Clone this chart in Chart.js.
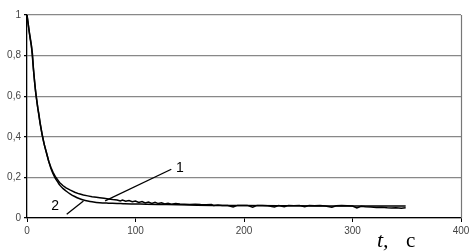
<!DOCTYPE html>
<html><head><meta charset="utf-8">
<script src="https://cdn.jsdelivr.net/npm/chart.js@4/dist/chart.umd.min.js"></script>
<style>html,body{margin:0;padding:0;background:#fff}#wrap{width:476px;height:252px;position:relative}</style>
</head><body><div id="wrap"><canvas id="c"></canvas></div>
<script>
// Curve 1 (experimental, noisy)
const t1 = [0,1,2,3,4,5,6,7,8,9,10,11,12,13,14,15,16,18,20,22,24,26,28,30,33,36,40,44,48,52,56,60,64,67,71,75,79,83,86,88,91,94,97,100,103,106,109,112,115,118,121,124,127,130,133,137,141,145,150,155,160,165,170,172,176,180,185,190,194,198,203,208,212,217,222,228,232,237,241,246,251,256,260,265,270,275,281,285,290,295,300,304,308,312,317,322,327,332,336,340,345,349];
const v1 = [1,0.96,0.92,0.88,0.85,0.81,0.73,0.67,0.62,0.58,0.54,0.51,0.47,0.44,0.41,0.385,0.36,0.32,0.28,0.25,0.225,0.205,0.19,0.175,0.16,0.148,0.137,0.127,0.119,0.113,0.109,0.105,0.102,0.1,0.097,0.094,0.091,0.089,0.084,0.088,0.083,0.086,0.08,0.084,0.077,0.081,0.074,0.079,0.072,0.077,0.071,0.075,0.069,0.073,0.068,0.071,0.069,0.068,0.067,0.068,0.066,0.065,0.066,0.062,0.064,0.061,0.062,0.054,0.062,0.061,0.062,0.053,0.062,0.061,0.06,0.054,0.061,0.055,0.062,0.06,0.061,0.055,0.061,0.06,0.061,0.059,0.053,0.06,0.061,0.06,0.059,0.05,0.058,0.055,0.054,0.052,0.053,0.05,0.049,0.051,0.048,0.05];
// Curve 2 (smooth)
const t2 = [0,2,4,6,8,10,12,14,16,18,20,22,24,26,28,30,33,36,40,44,48,52,56,60,67,75,83,90,98,110,129,150,172,200,250,300,349];
const v2 = [1,0.92,0.85,0.73,0.62,0.54,0.47,0.41,0.36,0.32,0.28,0.245,0.218,0.197,0.18,0.163,0.146,0.133,0.118,0.106,0.096,0.089,0.084,0.08,0.075,0.073,0.072,0.07,0.069,0.068,0.066,0.064,0.062,0.061,0.06,0.059,0.059];
const xTicks = [0,100,200,300,400];
const yTicks = [0,0.2,0.4,0.6,0.8,1];
// annotations in data units
const ann1 = {label:'1', tx:141, ty:0.248, x1:133, y1:0.24, x2:72, y2:0.084};
const ann2 = {label:'2', tx:26, ty:0.056, x1:36.6, y1:0.018, x2:52, y2:0.084};

const pts = (t,v)=>t.map((x,i)=>({x:x,y:v[i]}));

const annPlugin = {
  id:'ann',
  afterDraw(chart){
    const {ctx, scales:{x,y}, chartArea:ca} = chart;
    ctx.save();
    ctx.strokeStyle='#777'; ctx.lineWidth=1.2;
    ctx.beginPath(); ctx.moveTo(Math.round(ca.right)+0.5, ca.top); ctx.lineTo(Math.round(ca.right)+0.5, ca.bottom); ctx.stroke();
    ctx.strokeStyle='#000'; ctx.lineWidth=1.3;
    [ann1,ann2].forEach(a=>{
      ctx.beginPath();
      ctx.moveTo(x.getPixelForValue(a.x1), y.getPixelForValue(a.y1));
      ctx.lineTo(x.getPixelForValue(a.x2), y.getPixelForValue(a.y2));
      ctx.stroke();
      ctx.fillStyle='#000';
      ctx.font='14px "Liberation Sans", Arial, sans-serif';
      ctx.textAlign='center'; ctx.textBaseline='middle';
      ctx.fillText(a.label, x.getPixelForValue(a.tx), y.getPixelForValue(a.ty));
    });
    ctx.textBaseline='alphabetic'; ctx.textAlign='left';
    ctx.font='italic 22px "Liberation Serif", "Times New Roman", serif';
    ctx.fillText('t,', 377, 247);
    ctx.font='21px "Liberation Serif", "Times New Roman", serif';
    ctx.fillText('с', 406, 247);
    ctx.restore();
  }
};

new Chart(document.getElementById('c'), {
  type:'line',
  data:{datasets:[
    {label:'1', data:pts(t1,v1), borderColor:'#000', borderWidth:1.5, pointRadius:0, tension:0, fill:false},
    {label:'2', data:pts(t2,v2), borderColor:'#000', borderWidth:1.5, pointRadius:0, cubicInterpolationMode:'monotone', fill:false}
  ]},
  options:{
    responsive:true, maintainAspectRatio:false, animation:false,
    layout:{padding:{top:15,right:15,left:0,bottom:0}},
    plugins:{legend:{display:false}, tooltip:{enabled:false}},
    scales:{
      x:{type:'linear', min:0, max:400,
        afterBuildTicks(s){ s.ticks = xTicks.map(v=>({value:v})); },
        afterFit(s){ s.height = 34; },
        border:{display:true, color:'#000', width:1.3},
        grid:{drawOnChartArea:false, tickLength:4, tickColor:'#000'},
        ticks:{color:'#444', font:{family:'"Liberation Sans", Arial', size:10}, padding:3, maxRotation:0}
      },
      y:{min:0, max:1,
        afterBuildTicks(s){ s.ticks = yTicks.map(v=>({value:v})); },
        afterFit(s){ s.width = 27; },
        border:{display:true, color:'#000', width:1.3},
        grid:{color:'#888', lineWidth:1.3, tickLength:3, tickColor:'#000'},
        ticks:{color:'#444', font:{family:'"Liberation Sans", Arial', size:10}, padding:3,
          callback:v=>String(Math.round(v*10)/10).replace('.',',')}
      }
    }
  },
  plugins:[annPlugin]
});
</script></body></html>
